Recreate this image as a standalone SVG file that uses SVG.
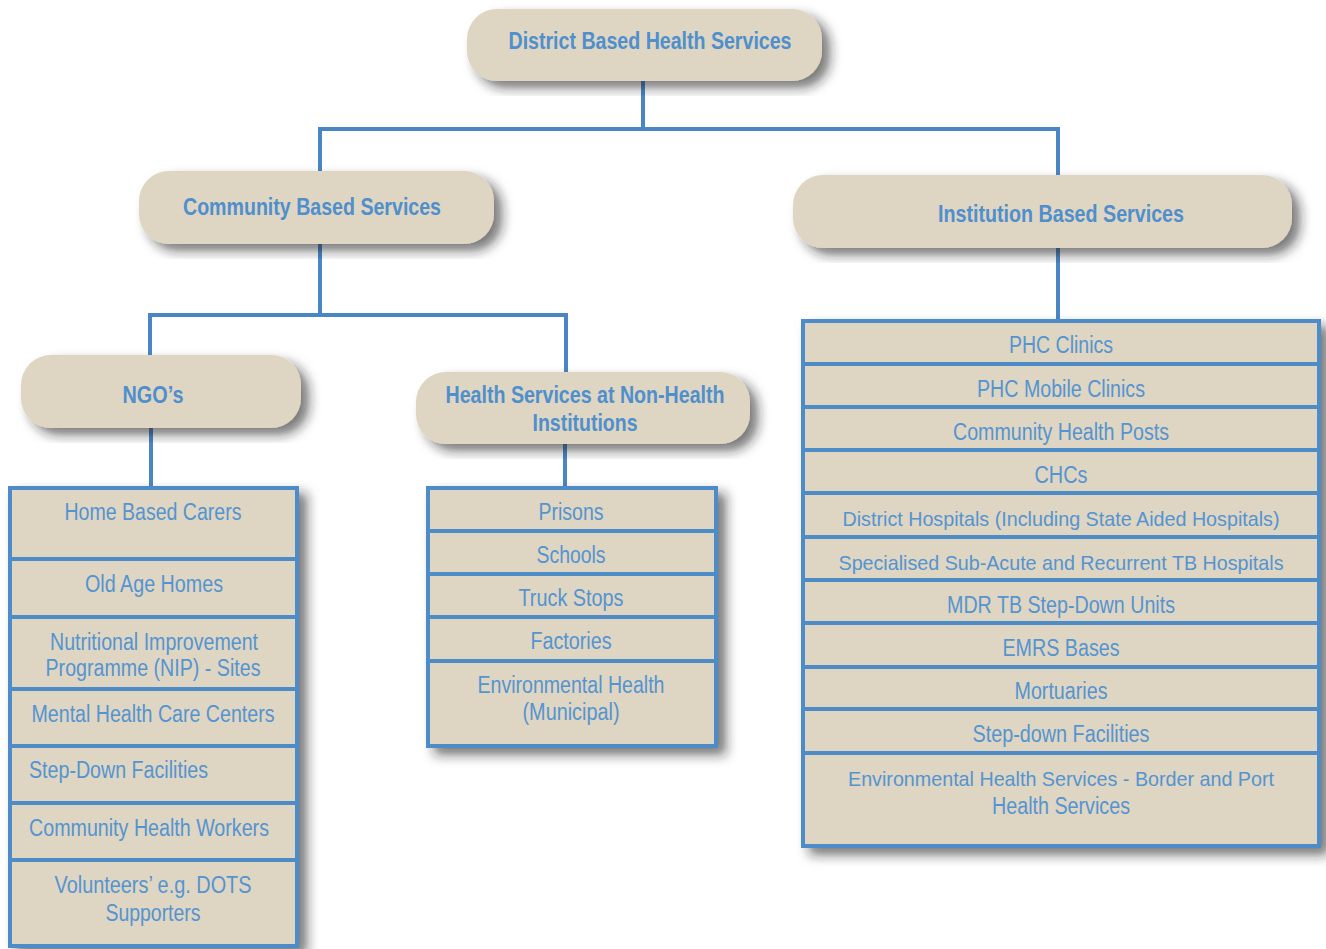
<svg xmlns="http://www.w3.org/2000/svg" width="1326" height="949" viewBox="0 0 1326 949">
  <defs>
    <filter id="shadow" x="-10%" y="-10%" width="125%" height="130%">
      <feDropShadow dx="8" dy="7" stdDeviation="6" flood-color="#222222" flood-opacity="0.6"/>
    </filter>
    <style>
      .pill { fill: #DED5C3; filter: url(#shadow); }
      .list { fill: #DED5C3; stroke: #4E8CC8; stroke-width: 4; filter: url(#shadow); }
      .div { stroke: #4E8CC8; stroke-width: 4; fill: none; }
      .conn { stroke: #4A86C5; stroke-width: 4; fill: none; }
      .head { font-family: "Liberation Sans Narrow", "Liberation Sans", Arial, sans-serif; font-weight: bold; font-size: 24px; fill: #4E8FCC; text-anchor: middle; }
      .item { font-family: "Liberation Sans Narrow", "Liberation Sans", Arial, sans-serif; font-size: 23px; fill: #5494D0; text-anchor: middle; }
      .long { font-size: 21px; }
      .left { text-anchor: start; }
    </style>
  </defs>

  <rect width="1326" height="949" fill="#ffffff"/>

  <!-- connectors -->
  <g id="connectors">
    <path class="conn" d="M643 81 V129 M320 129 H1058 M320 127 V172 M1058 127 V176"/>
    <path class="conn" d="M320 244 V315 M150 315 H566 M150 313 V356 M566 313 V373"/>
    <path class="conn" d="M151 428 V488"/>
    <path class="conn" d="M565 444 V488"/>
    <path class="conn" d="M1058 248 V322"/>
  </g>

  <!-- top level -->
  <g id="district">
    <rect class="pill" x="467" y="9" width="355" height="72" rx="30"/>
    <text class="head" x="650" y="49" textLength="283" lengthAdjust="spacingAndGlyphs">District Based Health Services</text>
  </g>

  <!-- second level -->
  <g id="community">
    <rect class="pill" x="139" y="171" width="355" height="73" rx="30"/>
    <text class="head" x="312" y="215" textLength="258" lengthAdjust="spacingAndGlyphs">Community Based Services</text>
  </g>
  <g id="institution">
    <rect class="pill" x="793" y="175" width="499" height="73" rx="30"/>
    <text class="head" x="1061" y="222" textLength="246" lengthAdjust="spacingAndGlyphs">Institution Based Services</text>
  </g>

  <!-- third level -->
  <g id="ngos">
    <rect class="pill" x="21" y="355" width="280" height="73" rx="30"/>
    <text class="head" x="153" y="403" textLength="61" lengthAdjust="spacingAndGlyphs">NGO’s</text>
  </g>
  <g id="non-health">
    <rect class="pill" x="416" y="372" width="334" height="72" rx="30"/>
    <text class="head" x="585" y="403" textLength="279" lengthAdjust="spacingAndGlyphs">Health Services at Non-Health</text>
    <text class="head" x="585" y="431" textLength="105" lengthAdjust="spacingAndGlyphs">Institutions</text>
  </g>

  <!-- NGO list -->
  <g id="ngo-list">
    <rect class="list" x="10" y="488" width="287" height="458"/>
    <path class="div" d="M10 559 H297 M10 617 H297 M10 689 H297 M10 746 H297 M10 803 H297 M10 860 H297"/>
    <text class="item" x="153" y="520" textLength="177" lengthAdjust="spacingAndGlyphs">Home Based Carers</text>
    <text class="item" x="154" y="592" textLength="138" lengthAdjust="spacingAndGlyphs">Old Age Homes</text>
    <text class="item" x="154" y="650" textLength="208" lengthAdjust="spacingAndGlyphs">Nutritional Improvement</text>
    <text class="item" x="153" y="676" textLength="215" lengthAdjust="spacingAndGlyphs">Programme (NIP) - Sites</text>
    <text class="item" x="153" y="722" textLength="243" lengthAdjust="spacingAndGlyphs">Mental Health Care Centers</text>
    <text class="item left" x="29" y="778" textLength="179" lengthAdjust="spacingAndGlyphs">Step-Down Facilities</text>
    <text class="item left" x="29" y="836" textLength="240" lengthAdjust="spacingAndGlyphs">Community Health Workers</text>
    <text class="item" x="153" y="893" textLength="197" lengthAdjust="spacingAndGlyphs">Volunteers’ e.g. DOTS</text>
    <text class="item" x="153" y="921" textLength="95" lengthAdjust="spacingAndGlyphs">Supporters</text>
  </g>

  <!-- non-health institution list -->
  <g id="non-health-list">
    <rect class="list" x="428" y="488" width="288" height="258"/>
    <path class="div" d="M428 531 H716 M428 574 H716 M428 617 H716 M428 661 H716"/>
    <text class="item" x="571" y="520" textLength="65" lengthAdjust="spacingAndGlyphs">Prisons</text>
    <text class="item" x="571" y="563" textLength="69" lengthAdjust="spacingAndGlyphs">Schools</text>
    <text class="item" x="571" y="606" textLength="105" lengthAdjust="spacingAndGlyphs">Truck Stops</text>
    <text class="item" x="571" y="649" textLength="81" lengthAdjust="spacingAndGlyphs">Factories</text>
    <text class="item" x="571" y="693" textLength="187" lengthAdjust="spacingAndGlyphs">Environmental Health</text>
    <text class="item" x="571" y="720" textLength="97" lengthAdjust="spacingAndGlyphs">(Municipal)</text>
  </g>

  <!-- institution list -->
  <g id="institution-list">
    <rect class="list" x="803" y="321" width="516" height="525"/>
    <path class="div" d="M803 364 H1319 M803 407 H1319 M803 450 H1319 M803 493 H1319 M803 537 H1319 M803 580 H1319 M803 623 H1319 M803 667 H1319 M803 709 H1319 M803 753 H1319"/>
    <text class="item" x="1061" y="353" textLength="104" lengthAdjust="spacingAndGlyphs">PHC Clinics</text>
    <text class="item" x="1061" y="397" textLength="168" lengthAdjust="spacingAndGlyphs">PHC Mobile Clinics</text>
    <text class="item" x="1061" y="440" textLength="216" lengthAdjust="spacingAndGlyphs">Community Health Posts</text>
    <text class="item" x="1061" y="483" textLength="53" lengthAdjust="spacingAndGlyphs">CHCs</text>
    <text class="item long" x="1061" y="526" textLength="437" lengthAdjust="spacingAndGlyphs">District Hospitals (Including State Aided Hospitals)</text>
    <text class="item long" x="1061" y="570" textLength="445" lengthAdjust="spacingAndGlyphs">Specialised Sub-Acute and Recurrent TB Hospitals</text>
    <text class="item" x="1061" y="613" textLength="228" lengthAdjust="spacingAndGlyphs">MDR TB Step-Down Units</text>
    <text class="item" x="1061" y="656" textLength="117" lengthAdjust="spacingAndGlyphs">EMRS Bases</text>
    <text class="item" x="1061" y="699" textLength="93" lengthAdjust="spacingAndGlyphs">Mortuaries</text>
    <text class="item" x="1061" y="742" textLength="177" lengthAdjust="spacingAndGlyphs">Step-down Facilities</text>
    <text class="item long" x="1061" y="786" textLength="426" lengthAdjust="spacingAndGlyphs">Environmental Health Services - Border and Port</text>
    <text class="item" x="1061" y="814" textLength="138" lengthAdjust="spacingAndGlyphs">Health Services</text>
  </g>
</svg>
